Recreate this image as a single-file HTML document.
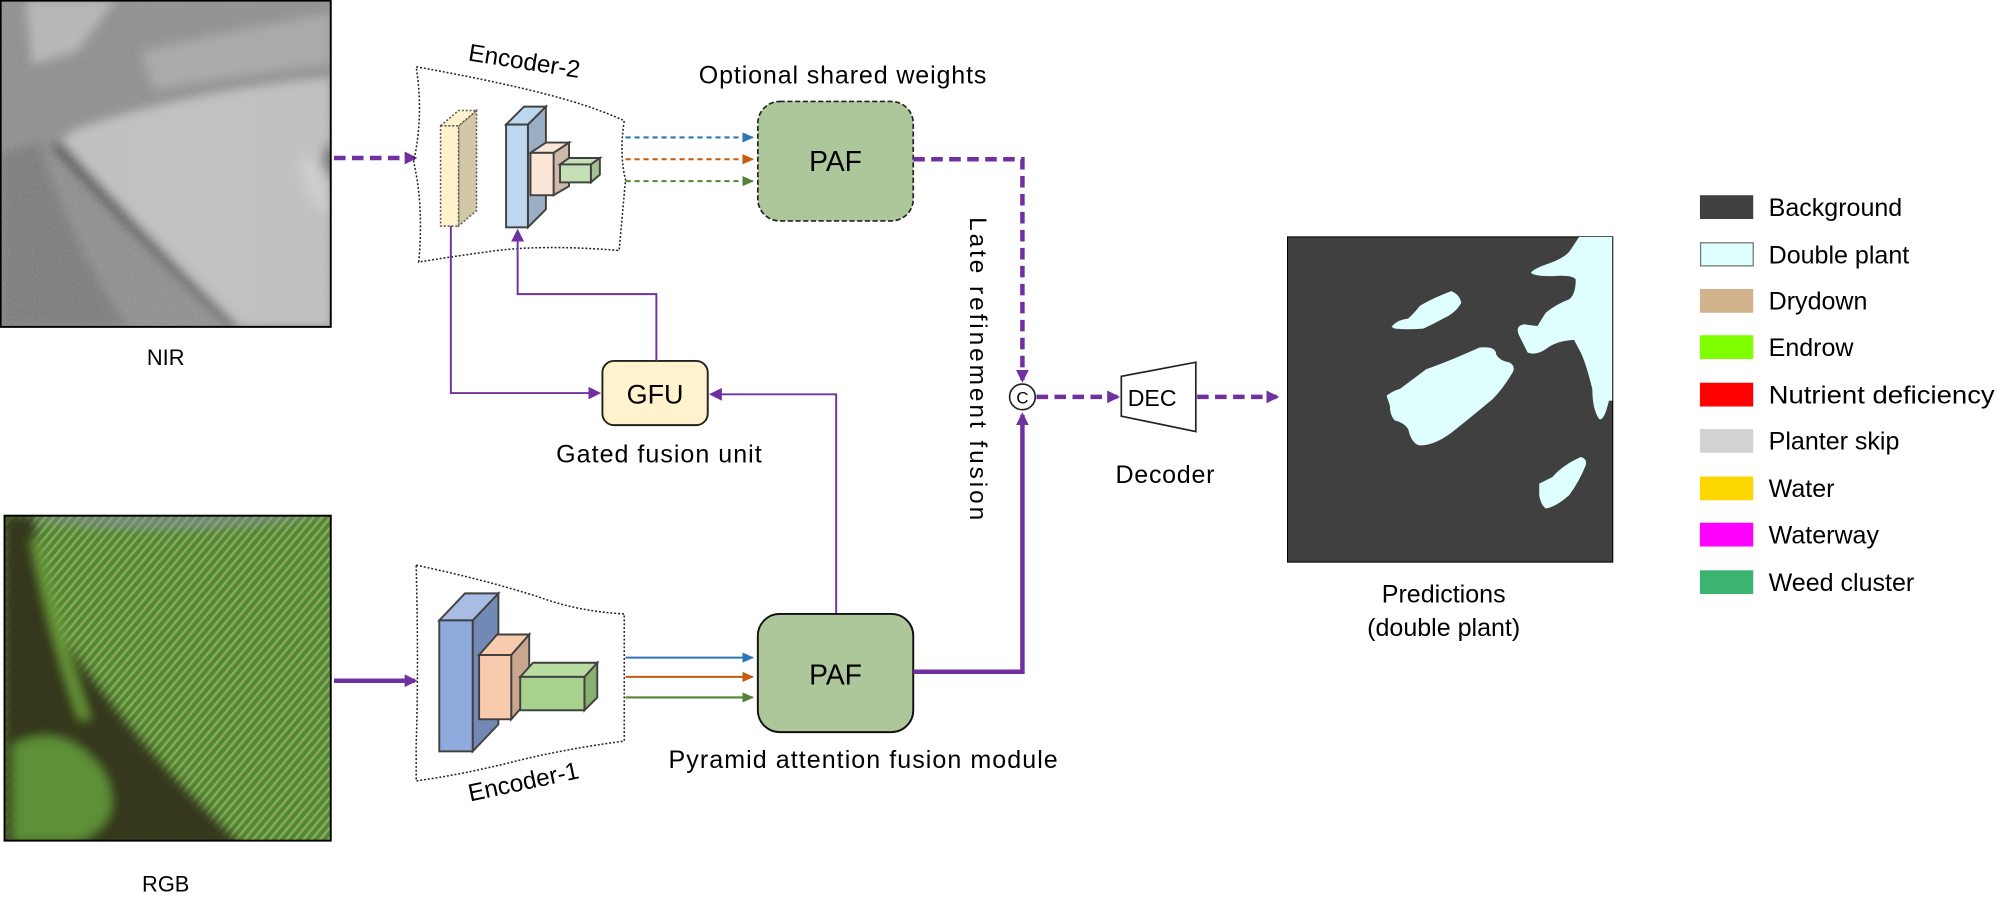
<!DOCTYPE html>
<html><head><meta charset="utf-8"><style>
html,body{margin:0;padding:0;background:#fff;}
svg{display:block;}
text{font-family:"Liberation Sans",sans-serif;fill:#000;}
</style></head><body>
<svg width="2014" height="910" viewBox="0 0 1568 708.5" xmlns="http://www.w3.org/2000/svg">
<defs>
<filter id="blur6"><feGaussianBlur stdDeviation="4"/></filter>
<filter id="noise" x="0" y="0" width="100%" height="100%">
<feTurbulence type="fractalNoise" baseFrequency="0.6" numOctaves="2" seed="3"/>
<feColorMatrix type="matrix" values="0 0 0 0 0.5  0 0 0 0 0.5  0 0 0 0 0.5  0 0 0 0.5 0"/>
</filter>
<clipPath id="cn"><rect x="0" y="0" width="258" height="255"/></clipPath>
<clipPath id="cr"><rect x="3" y="401" width="255" height="254"/></clipPath>
<pattern id="stripes" width="5" height="5" patternUnits="userSpaceOnUse" patternTransform="rotate(40)">
<rect width="5" height="5" fill="#4f8a30"/><rect width="2" height="5" fill="#a8b078"/></pattern>
<marker id="ap" markerWidth="10" markerHeight="10" refX="8" refY="5" orient="auto" markerUnits="userSpaceOnUse"><path d="M0,0 L10,5 L0,10 Z" fill="#7030a0"/></marker>
<marker id="ab" markerWidth="10" markerHeight="10" refX="8" refY="5" orient="auto" markerUnits="userSpaceOnUse"><path d="M0,1 L9,5 L0,9 Z" fill="#2e75b6"/></marker>
<marker id="ao" markerWidth="10" markerHeight="10" refX="8" refY="5" orient="auto" markerUnits="userSpaceOnUse"><path d="M0,1 L9,5 L0,9 Z" fill="#c55a11"/></marker>
<marker id="ag" markerWidth="10" markerHeight="10" refX="8" refY="5" orient="auto" markerUnits="userSpaceOnUse"><path d="M0,1 L9,5 L0,9 Z" fill="#548235"/></marker>
</defs>

<!-- NIR image -->
<g clip-path="url(#cn)">
<rect x="0" y="0" width="258" height="255" fill="#8e8e8e"/>
<g filter="url(#blur6)">
<path d="M47,109 Q120,190 187,255 L258,255 L258,60 Q150,70 60,100 Z" fill="#c2c2c2"/>
<path d="M20,0 L90,0 L60,40 L25,50 Z" fill="#b8b8b8"/>
<path d="M110,40 Q200,20 258,10 L258,50 Q180,60 120,70 Z" fill="#a8a8a8"/>
<path d="M240,120 Q258,140 258,170 Q230,150 235,125Z" fill="#d0d0d0"/>
<path d="M255,110 Q275,130 290,160 Q265,160 250,125Z" fill="#707070"/>
<path d="M0,120 L30,110 Q60,200 100,255 L0,255 Z" fill="#7a7a7a"/>
<path d="M47,109 Q120,190 187,255 L180,255 Q110,190 40,115 Z" fill="#555"/>
</g>
<rect x="0" y="0" width="258" height="255" filter="url(#noise)" opacity="0.55"/>
</g>
<rect x="0.5" y="0.5" width="257" height="254" fill="none" stroke="#000" stroke-width="1.5"/>
<text x="129" y="284" font-size="17" text-anchor="middle">NIR</text>

<!-- RGB image -->
<g clip-path="url(#cr)">
<rect x="3" y="401" width="255" height="254" fill="url(#stripes)"/>
<rect x="3" y="401" width="255" height="254" fill="#4d8a2e" opacity="0.3"/>
<g filter="url(#blur6)">
<path d="M3,401 L26,401 Q35,470 55,505 Q110,585 190,660 L3,660 Z" fill="#35381f"/>
<path d="M10,580 Q50,560 80,600 Q100,640 60,655 L10,655 Z" fill="#5d9038"/>
<path d="M30,420 Q50,500 70,560 L62,560 Q40,500 24,420 Z" fill="#6a9a3a"/>
<path d="M30,405 Q140,420 258,401 L30,401 Z" fill="#8a90b0" opacity="0.6"/>
</g>
</g>
<rect x="3.5" y="401.5" width="254" height="253" fill="none" stroke="#000" stroke-width="1.5"/>
<text x="129" y="694" font-size="17" text-anchor="middle">RGB</text>

<!-- input arrows -->
<line x1="260" y1="123" x2="323" y2="123" stroke="#7030a0" stroke-width="3.5" stroke-dasharray="9,5" marker-end="url(#ap)"/>
<line x1="260" y1="530" x2="323" y2="530" stroke="#7030a0" stroke-width="3.5" marker-end="url(#ap)"/>

<!-- Encoder-2 -->
<path d="M324,52 Q380,62 420,72 Q460,82 486,94 Q482,120 487,140 L482,195 Q420,190 380,196 Q350,200 326,204 Q330,160 322,126 Q330,90 324,52 Z" fill="none" stroke="#222" stroke-width="1.2" stroke-dasharray="1.5,1.5"/>
<text x="0" y="0" font-size="19" transform="translate(364,47) rotate(9)">Encoder-2</text>
<g stroke="#555" stroke-width="1.2" stroke-dasharray="1.5,1.5">
<path d="M357,98 L371,86 L371,164 L357,176 Z" fill="#d2c8a6"/>
<path d="M343,98 L357,86 L371,86 L357,98 Z" fill="#fff2cc"/>
<rect x="343" y="98" width="14" height="78" fill="#fff2cc"/>
</g>
<g stroke="#404040" stroke-width="1.5">
<path d="M411,97 L425,83 L425,163 L411,177 Z" fill="#9aafc3"/>
<path d="M394,97 L408,83 L425,83 L411,97 Z" fill="#bdd7ee"/>
<rect x="394" y="97" width="17" height="80" fill="#bdd7ee"/>
<path d="M431,119 L443,111 L443,145 L431,152 Z" fill="#d0b9a9"/>
<path d="M413,119 L425,111 L443,111 L431,119 Z" fill="#fbe5d6"/>
<rect x="413" y="119" width="18" height="33" fill="#fbe5d6"/>
<path d="M460,128 L467,123 L467,136 L460,142 Z" fill="#a6c295"/>
<path d="M436,128 L443,123 L467,123 L460,128 Z" fill="#c5e0b4"/>
<rect x="436" y="128" width="24" height="14" fill="#c5e0b4"/>
</g>

<line x1="487" y1="107" x2="586" y2="107" stroke="#2e75b6" stroke-width="1.6" stroke-dasharray="4,3" marker-end="url(#ab)"/>
<line x1="487" y1="124" x2="586" y2="124" stroke="#c55a11" stroke-width="1.6" stroke-dasharray="4,3" marker-end="url(#ao)"/>
<line x1="487" y1="141" x2="586" y2="141" stroke="#548235" stroke-width="1.6" stroke-dasharray="4,3" marker-end="url(#ag)"/>

<!-- PAF top -->
<rect x="590" y="79" width="121" height="93" rx="17" fill="#adc79a" stroke="#222" stroke-width="1.3" stroke-dasharray="4,2"/>
<text x="650.5" y="133" font-size="22" text-anchor="middle">PAF</text>
<text x="656" y="65" font-size="19.5" text-anchor="middle" textLength="224">Optional shared weights</text>

<path d="M711,124 L796,124 L796,296" fill="none" stroke="#7030a0" stroke-width="3.5" stroke-dasharray="9,5" marker-end="url(#ap)"/>
<text x="0" y="0" font-size="19" text-anchor="middle" transform="translate(755,287) rotate(90)" textLength="236">Late refinement fusion</text>

<!-- GFU -->
<rect x="469" y="281" width="82" height="50" rx="9" fill="#fff2cc" stroke="#222" stroke-width="1.5"/>
<text x="510" y="314" font-size="21" text-anchor="middle">GFU</text>
<text x="513" y="360" font-size="19.5" text-anchor="middle" textLength="160">Gated fusion unit</text>
<path d="M351,176 L351,306 L466,306" fill="none" stroke="#7030a0" stroke-width="1.5" marker-end="url(#ap)"/>
<path d="M511,281 L511,229 L403,229 L403,180" fill="none" stroke="#7030a0" stroke-width="1.5" marker-end="url(#ap)"/>
<path d="M651,478 L651,307 L554,307" fill="none" stroke="#7030a0" stroke-width="1.5" marker-end="url(#ap)"/>

<!-- Encoder-1 -->
<path d="M324,440 Q380,452 420,465 Q450,476 486,478 L486,577 Q440,583 400,593 Q360,603 324,608 L324,580 Q326,520 324,440 Z" fill="none" stroke="#222" stroke-width="1.2" stroke-dasharray="1.5,1.5"/>
<text x="0" y="0" font-size="19" transform="translate(366,624) rotate(-12)">Encoder-1</text>
<g stroke="#404040" stroke-width="1.5">
<path d="M368,483 L388,462 L388,564 L368,585 Z" fill="#7189b4"/>
<path d="M342,483 L362,462 L388,462 L368,483 Z" fill="#a9bce4"/>
<rect x="342" y="483" width="26" height="102" fill="#8faadc"/>
<path d="M398,510 L412,494 L412,544 L398,560 Z" fill="#c9a68e"/>
<path d="M373,510 L387,494 L412,494 L398,510 Z" fill="#f8cbad"/>
<rect x="373" y="510" width="25" height="50" fill="#f8cbad"/>
<path d="M455,527 L465,516 L465,543 L455,553 Z" fill="#88b070"/>
<path d="M405,527 L415,516 L465,516 L455,527 Z" fill="#b9dca2"/>
<rect x="405" y="527" width="50" height="26" fill="#a9d18e"/>
</g>
<line x1="487" y1="512" x2="586" y2="512" stroke="#2e75b6" stroke-width="1.6" marker-end="url(#ab)"/>
<line x1="487" y1="527" x2="586" y2="527" stroke="#c55a11" stroke-width="1.6" marker-end="url(#ao)"/>
<line x1="487" y1="543" x2="586" y2="543" stroke="#548235" stroke-width="1.6" marker-end="url(#ag)"/>

<!-- PAF bottom -->
<rect x="590" y="478" width="121" height="92" rx="17" fill="#adc79a" stroke="#111" stroke-width="1.5"/>
<text x="650.5" y="533" font-size="22" text-anchor="middle">PAF</text>
<text x="672" y="598" font-size="19.5" text-anchor="middle" textLength="303">Pyramid attention fusion module</text>
<path d="M711,523 L796,523 L796,323" fill="none" stroke="#7030a0" stroke-width="3.5" marker-end="url(#ap)"/>

<circle cx="796" cy="309" r="10" fill="#fff" stroke="#222" stroke-width="1.3"/>
<text x="796" y="314" font-size="13" text-anchor="middle">C</text>
<line x1="807" y1="309" x2="870" y2="309" stroke="#7030a0" stroke-width="3.5" stroke-dasharray="9,5" marker-end="url(#ap)"/>

<path d="M873,293 L931,282 L931,336 L873,324 Z" fill="#fff" stroke="#222" stroke-width="1.3"/>
<text x="897" y="316" font-size="18" text-anchor="middle">DEC</text>
<text x="907" y="376" font-size="19.5" text-anchor="middle" textLength="77">Decoder</text>
<line x1="932" y1="309" x2="994" y2="309" stroke="#7030a0" stroke-width="3.5" stroke-dasharray="9,5" marker-end="url(#ap)"/>

<svg x="1002" y="184" width="254" height="254" viewBox="20 20 983 983">
<rect x="20" y="20" width="983" height="983" fill="#404040" stroke="#000" stroke-width="6"/>
<g fill="#dffffe">
<path d="M900,22 L1000,22 L1000,515 L990,515 Q975,580 960,570 Q940,540 940,480 Q920,400 905,370 L885,332 Q830,335 800,360 Q770,380 745,370 Q730,340 720,320 Q705,290 735,285 Q765,290 775,290 Q790,265 800,250 Q830,225 870,210 Q890,195 890,150 Q880,135 820,140 Q765,140 755,130 Q760,120 800,105 Q860,85 875,60 Z"/>
<path d="M335,293 Q350,272 385,268 Q400,255 420,230 Q450,210 515,185 Q540,195 545,220 Q530,250 490,268 Q450,290 430,298 Q380,302 345,298 Z"/>
<path d="M320,500 Q340,485 360,480 Q400,450 440,420 Q500,400 600,355 Q650,350 650,375 Q660,395 690,400 Q710,410 700,430 Q670,480 640,510 Q580,560 530,600 Q470,650 420,650 Q395,645 385,600 Q370,580 345,575 Q330,560 330,530 Z"/>
<path d="M780,765 Q800,755 820,745 Q850,710 905,685 Q925,690 920,710 Q900,760 870,800 Q830,835 800,840 Q785,830 780,800 Z"/>
</g>
</svg>
<text x="1124" y="469" font-size="19.5" text-anchor="middle">Predictions</text>
<text x="1124" y="495" font-size="19.5" text-anchor="middle">(double plant)</text>

<g font-size="19.5">
<rect x="1323.5" y="152" width="41.5" height="18.5" fill="#404040"/><text x="1377" y="168">Background</text>
<rect x="1324" y="189" width="41" height="18" fill="#dffffe" stroke="#777" stroke-width="1"/><text x="1377" y="205">Double plant</text>
<rect x="1323.5" y="225" width="41.5" height="18.5" fill="#d1b38c"/><text x="1377" y="241">Drydown</text>
<rect x="1323.5" y="261" width="41.5" height="18.5" fill="#7fff00"/><text x="1377" y="277">Endrow</text>
<rect x="1323.5" y="298" width="41.5" height="18.5" fill="#ff0000"/><text x="1377" y="314" textLength="176" lengthAdjust="spacingAndGlyphs">Nutrient deficiency</text>
<rect x="1323.5" y="334" width="41.5" height="18.5" fill="#d3d3d3"/><text x="1377" y="350">Planter skip</text>
<rect x="1323.5" y="371" width="41.5" height="18.5" fill="#ffd700"/><text x="1377" y="387">Water</text>
<rect x="1323.5" y="407" width="41.5" height="18.5" fill="#ff00ff"/><text x="1377" y="423">Waterway</text>
<rect x="1323.5" y="444" width="41.5" height="18.5" fill="#3cb371"/><text x="1377" y="460">Weed cluster</text>
</g>
</svg>
</body></html>
